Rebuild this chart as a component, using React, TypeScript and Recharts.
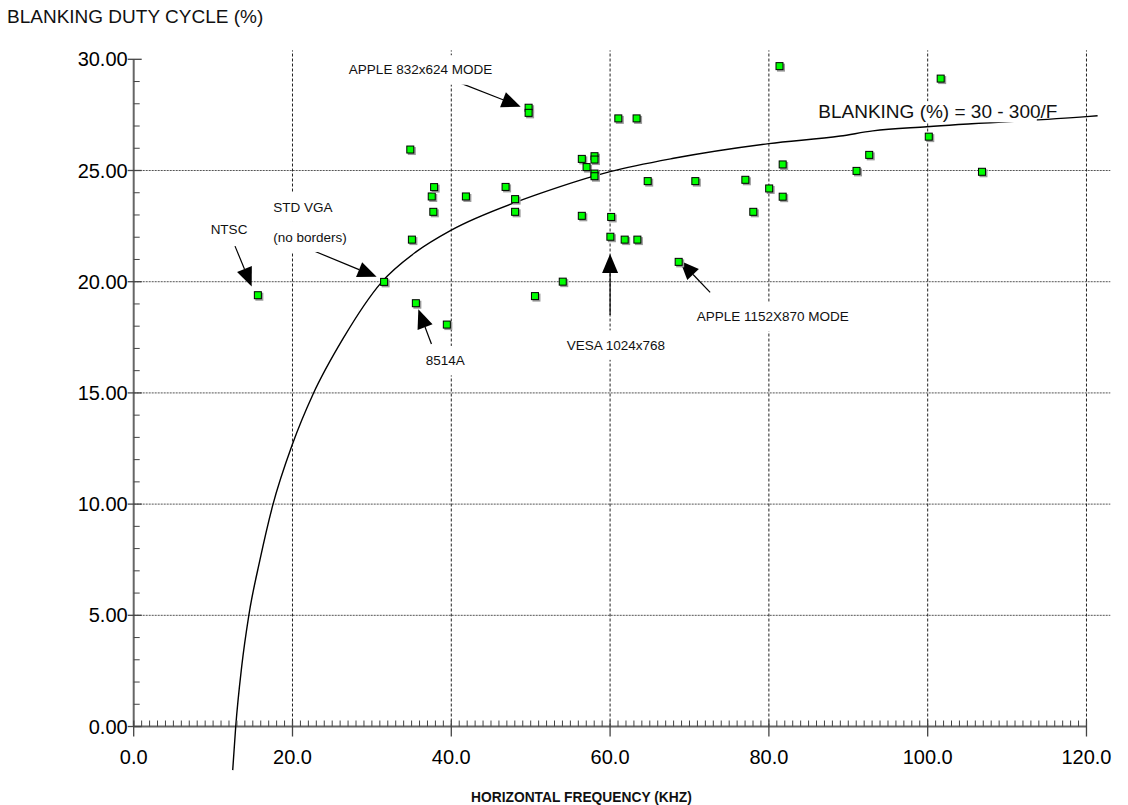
import React from "react";
import {
  ComposedChart,
  XAxis,
  YAxis,
  Line,
  Scatter,
  ReferenceLine,
  ReferenceDot,
} from "recharts";

const FONT = '"Liberation Sans", Arial, Helvetica, sans-serif';

// measured monitor modes: horizontal frequency (kHz) and blanking duty cycle (%)
const freqKhz = [
  15.7, 31.6, 34.9, 35.1, 35.6, 37.6, 37.9, 37.8, 39.5, 41.9, 46.9, 48.1, 48.1,
  49.8, 49.8, 50.6, 54.1, 56.5, 56.5, 57.1, 58.1, 58.1, 58.1, 58.1, 60.1, 60.2,
  61.1, 61.9, 63.4, 63.5, 64.8, 68.7, 70.8, 77.1, 78.1, 80.1, 81.4, 81.8, 81.8,
  91.1, 92.7, 100.2, 101.7, 106.9,
];
const blankingPct = [
  19.37, 19.97, 25.92, 21.87, 19.01, 23.81, 24.23, 23.12, 18.05, 23.81, 24.24,
  23.69, 23.12, 27.8, 27.57, 19.33, 19.98, 25.5, 22.94, 25.13, 25.62, 25.47,
  24.84, 24.72, 22.0, 22.89, 27.32, 21.87, 27.32, 21.87, 24.5, 20.87, 24.5,
  24.56, 23.12, 24.17, 29.67, 25.25, 23.8, 24.96, 25.68, 26.5, 29.11, 24.92,
];

// fitted curve
const curveFreq = [
  12.47, 12.85, 13.6, 14.5, 15.9, 17.5, 20, 22.6, 26.4, 31.2, 35.6, 40, 48.1,
  51.2, 60, 68, 80, 89, 93.1, 99.9, 120, 121.4,
];
const curveBlank = [
  -1.96, 0, 2.69, 5, 7.49, 9.93, 12.7, 14.95, 17.46, 19.97, 21.35, 22.32, 23.57,
  23.97, 24.95, 25.55, 26.21, 26.55, 26.78, 26.97, 27.42, 27.46,
];

const xMajor = [0, 20, 40, 60, 80, 100, 120];
const yMajor = [0, 5, 10, 15, 20, 25, 30];
const hGrid = [5, 10, 15, 20, 25];
const vGrid = [20, 40, 60, 80, 100, 120];

const labelText = [
  "NTSC",
  "STD VGA",
  "(no borders)",
  "APPLE 832x624 MODE",
  "8514A",
  "VESA 1024x768",
  "APPLE 1152X870 MODE",
  "BLANKING (%) = 30 - 300/F",
];
const labelF = [9.69, 17.58, 17.58, 27.1, 36.78, 54.53, 70.9, 86.22];
const labelY = [22.36, 23.35, 22.0, 29.52, 16.45, 17.15, 18.43, 27.64];

// arrows: tail -> tip
const arrowFrom = [
  [12.76, 21.6],
  [22.1, 21.47],
  [41.0, 28.95],
  [37.5, 17.2],
  [60, 18.5],
  [72.6, 19.52],
];
const arrowTo = [
  [14.86, 19.78],
  [30.6, 20.22],
  [48.74, 27.87],
  [35.85, 18.76],
  [60, 21.25],
  [68.8, 20.94],
];

const points = freqKhz.map((f, i) => ({ f, y: blankingPct[i] }));
const curve = curveFreq.map((f, i) => ({ f, y: curveBlank[i] }));

const xMinor = Array.from({ length: 121 }, (_, i) => i).filter((i) => i % 20 !== 0);
const yMinor = Array.from({ length: 31 }, (_, i) => i).filter((i) => i % 5 !== 0);

// rough Arial advance widths, em units
const charWidth = (c: string) => {
  if (c === " ") return 0.278;
  if ("()".includes(c)) return 0.333;
  if (c === "%") return 0.889;
  if ("/.-".includes(c)) return 0.3;
  if ("MW".includes(c)) return 0.833;
  if ("I".includes(c)) return 0.278;
  if (/[0-9]/.test(c)) return 0.556;
  if (/[A-Z]/.test(c)) return 0.69;
  if ("ilj".includes(c)) return 0.222;
  if ("rt".includes(c)) return 0.32;
  return 0.54;
};
const textWidth = (t: string, size: number) =>
  t.split("").reduce((s, c) => s + charWidth(c), 0) * size;

const Square = (props: any) => {
  const { cx, cy } = props;
  return (
    <g>
      <rect x={cx - 3} y={cy - 3} width={8} height={8} fill="#9a9a9a" />
      <rect
        x={cx - 4}
        y={cy - 4}
        width={7}
        height={7}
        fill="#00ff00"
        stroke="#000"
        strokeWidth={1}
      />
    </g>
  );
};

const Arrow = (props: any) => {
  const { x1, y1, x2, y2 } = props;
  const dx = x2 - x1;
  const dy = y2 - y1;
  const len = Math.sqrt(dx * dx + dy * dy) || 1;
  const ux = dx / len;
  const uy = dy / len;
  const head = 19;
  const half = 8;
  const bx = x2 - ux * head;
  const by = y2 - uy * head;
  const pts = `${x2},${y2} ${bx - uy * half},${by + ux * half} ${bx + uy * half},${by - ux * half}`;
  return (
    <g>
      <line x1={x1} y1={y1} x2={bx} y2={by} stroke="#000" strokeWidth={1.2} />
      <polygon points={pts} fill="#000" />
    </g>
  );
};

const makeLabel = (text: string) => (props: any) => {
  const { cx, cy } = props;
  const big = text.startsWith("BLANKING");
  const size = big ? 19 : 13.5;
  // the big formula label only needs to mask the gridline, not the curve
  const w = big ? textWidth(text, size) * 0.9 : textWidth(text, size);
  const padY = big ? 1 : 8;
  return (
    <g>
      <rect
        x={cx - 2}
        y={cy - size / 2 - padY}
        width={w + 4}
        height={size + padY * 2}
        fill="#fff"
      />
      <text
        x={cx}
        y={cy}
        dominantBaseline="central"
        fontFamily={FONT}
        fontSize={size}
        fill="#111"
      >
        {text}
      </text>
    </g>
  );
};

const XMajorTick = (props: any) => {
  const { cx, cy, payload } = props;
  return (
    <g>
      <line x1={cx} y1={cy - 6} x2={cx} y2={cy + 10} stroke="#444" strokeWidth={1.3} />
      <text
        x={cx}
        y={cy + 30}
        textAnchor="middle"
        dominantBaseline="central"
        fontFamily={FONT}
        fontSize={20}
        fill="#000"
      >
        {payload}
      </text>
    </g>
  );
};

const XMinorTick = (props: any) => {
  const { cx, cy } = props;
  return <line x1={cx} y1={cy} x2={cx} y2={cy - 6} stroke="#444" strokeWidth={1} />;
};

const YMajorTick = (props: any) => {
  const { cx, cy } = props;
  return <line x1={cx - 6} y1={cy} x2={cx + 8} y2={cy} stroke="#444" strokeWidth={1.3} />;
};

const YMinorTick = (props: any) => {
  const { cx, cy } = props;
  return <line x1={cx} y1={cy} x2={cx + 6} y2={cy} stroke="#444" strokeWidth={1} />;
};

export default function App() {
  return (
    <div
      style={{
        position: "absolute",
        left: 0,
        top: 0,
        width: 1128,
        height: 805,
        background: "#fff",
        fontFamily: FONT,
      }}
    >
      <div
        style={{
          position: "absolute",
          left: 7,
          top: 7,
          fontSize: 19,
          lineHeight: "19px",
          color: "#111",
          whiteSpace: "nowrap",
        }}
      >
        BLANKING DUTY CYCLE (%)
      </div>
      <div
        style={{
          position: "absolute",
          left: 471,
          top: 791,
          fontSize: 13.8,
          lineHeight: "13px",
          fontWeight: "bold",
          color: "#111",
          whiteSpace: "nowrap",
        }}
      >
        HORIZONTAL FREQUENCY (KHZ)
      </div>
      <ComposedChart
        width={1128}
        height={805}
        margin={{ top: 50.4, right: 17.7, bottom: 34, left: 73.7 }}
      >
        <XAxis
          type="number"
          dataKey="f"
          domain={[0, 123]}
          allowDataOverflow
          hide
        />
        <YAxis
          type="number"
          dataKey="y"
          domain={[-2, 30.4]}
          allowDataOverflow
          ticks={yMajor}
          tickFormatter={(v) => Number(v).toFixed(2)}
          width={60}
          axisLine={false}
          tickLine={false}
          tickSize={6}
          tickMargin={0}
          tick={{ fontSize: 20, fill: "#000", fontFamily: FONT }}
        />

        {hGrid.map((v) => (
          <ReferenceLine
            key={`h${v}`}
            segment={[
              { x: 0, y: v },
              { x: 123, y: v },
            ]}
            stroke="#555"
            strokeDasharray="2 1"
          />
        ))}
        {vGrid.map((v) => (
          <ReferenceLine
            key={`v${v}`}
            segment={[
              { x: v, y: 0 },
              { x: v, y: 30.4 },
            ]}
            stroke="#222"
            strokeDasharray="3 2"
          />
        ))}

        {labelText.map((t, i) => (
          <ReferenceDot
            key={`l${i}`}
            x={labelF[i]}
            y={labelY[i]}
            shape={makeLabel(t)}
          />
        ))}

        <ReferenceLine
          segment={[
            { x: 0, y: 0 },
            { x: 0, y: 30 },
          ]}
          stroke="#666"
          strokeWidth={2}
        />
        <ReferenceLine
          segment={[
            { x: 0, y: 0 },
            { x: 120, y: 0 },
          ]}
          stroke="#666"
          strokeWidth={2}
        />
        {xMinor.map((v) => (
          <ReferenceDot key={`xm${v}`} x={v} y={0} shape={XMinorTick} />
        ))}
        {xMajor.map((v) => (
          <ReferenceDot
            key={`xM${v}`}
            x={v}
            y={0}
            shape={(p: any) => <XMajorTick {...p} payload={v.toFixed(1)} />}
          />
        ))}
        {yMinor.map((v) => (
          <ReferenceDot key={`ym${v}`} x={0} y={v} shape={YMinorTick} />
        ))}
        {yMajor.map((v) => (
          <ReferenceDot key={`yM${v}`} x={0} y={v} shape={YMajorTick} />
        ))}

        <Line
          data={curve}
          dataKey="y"
          type="monotone"
          stroke="#000"
          strokeWidth={1.4}
          dot={false}
          activeDot={false}
          isAnimationActive={false}
        />

        {arrowFrom.map((a, i) => (
          <ReferenceLine
            key={`a${i}`}
            segment={[
              { x: a[0], y: a[1] },
              { x: arrowTo[i][0], y: arrowTo[i][1] },
            ]}
            shape={Arrow}
          />
        ))}

        <Scatter
          data={points}
          dataKey="y"
          shape={Square}
          isAnimationActive={false}
        />
      </ComposedChart>
    </div>
  );
}
